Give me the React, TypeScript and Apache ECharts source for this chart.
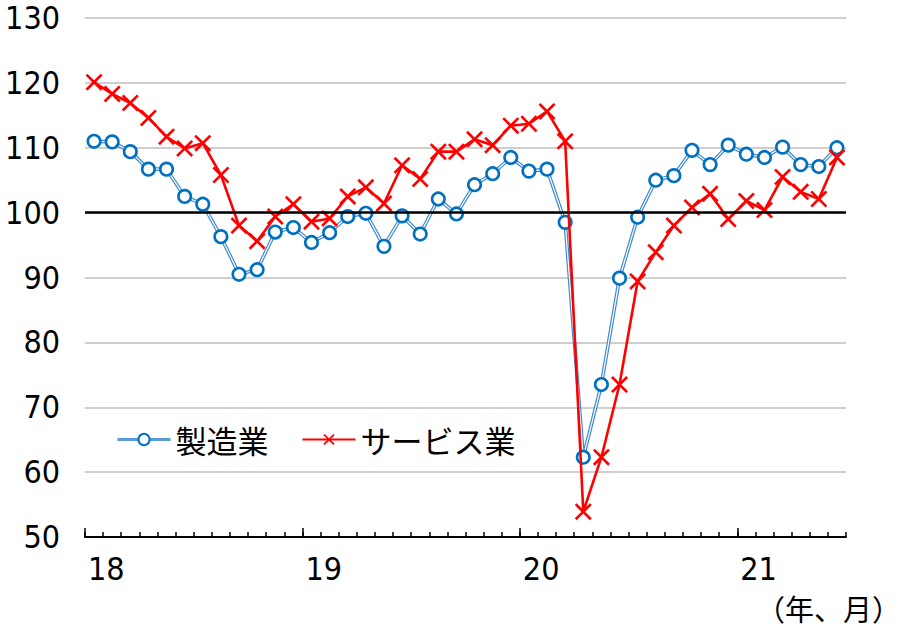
import React, { useEffect, useRef } from "react";
import * as echarts from "echarts";

const yearLabels = ["18", "19", "20", "21"];
const monthsPerYear = 12;
const months: string[] = [];
for (let y = 0; y < yearLabels.length; y++) {
  for (let m = 1; m <= monthsPerYear; m++) {
    if (y === 3 && m > 6) break;
    months.push(`${yearLabels[y]}/${m}`);
  }
}

const manufacturing = [
  111.0, 110.9, 109.4, 106.7, 106.7, 102.5, 101.3, 96.3, 90.5, 91.2, 97.0, 97.7,
  95.4, 96.9, 99.4, 99.9, 94.8, 99.5, 96.7, 102.1, 99.8, 104.3, 106.0, 108.5,
  106.4, 106.7, 98.5, 62.3, 73.5, 89.9, 99.3, 105.0, 105.7, 109.6, 107.4, 110.4,
  109.0, 108.5, 110.1, 107.4, 107.1, 110.0,
];
const services = [
  120.1, 118.3, 116.9, 114.6, 111.7, 109.9, 110.7, 105.8, 98.0, 95.6, 99.4, 101.3,
  98.6, 99.1, 102.5, 103.9, 101.4, 107.3, 105.2, 109.4, 109.4, 111.3, 110.4, 113.4,
  113.7, 115.6, 111.0, 53.9, 62.3, 73.5, 89.4, 93.9, 98.0, 100.8, 102.9, 99.0,
  101.8, 100.4, 105.5, 103.2, 102.1, 108.5,
];

const boundaries: string[] = [];
for (let k = 0; k <= months.length; k++) {
  boundaries.push(k % monthsPerYear === 0 ? yearLabels[k / monthsPerYear] ?? "" : "");
}

const CROSS = "path://M1.1,0 L5,3.9 L8.9,0 L10,1.1 L6.1,5 L10,8.9 L8.9,10 L5,6.1 L1.1,10 L0,8.9 L3.9,5 L0,1.1 Z";
const NUM_FONT = "'DejaVu Sans Condensed', 'Liberation Sans Narrow', 'Noto Sans CJK JP', sans-serif";
const JP_FONT = "'Noto Sans CJK JP', sans-serif";

export default function App() {
  const ref = useRef<HTMLDivElement>(null);
  useEffect(() => {
    if (!ref.current) return;
    const chart = echarts.init(ref.current, undefined, { renderer: "svg" });
    chart.setOption({
      animation: false,
      backgroundColor: "#ffffff",
      grid: { left: 85, right: 55, top: 18, bottom: 90, containLabel: false },
      legend: {
        left: 111,
        top: 419,
        itemWidth: 53,
        itemHeight: 14,
        itemGap: 33,
        textStyle: { fontSize: 31, color: "#000", fontFamily: JP_FONT },
        data: [
          { name: "製造業", lineStyle: { color: "#5B9BD5", width: 3 } },
          { name: "サービス業" },
        ],
      },
      xAxis: [
        {
          type: "category",
          data: months,
          boundaryGap: true,
          axisLine: { show: true, lineStyle: { color: "#000", width: 2 } },
          axisTick: { show: true, interval: 0, inside: true, length: 5, lineStyle: { color: "#000", width: 1.5 } },
          axisLabel: { show: false },
          splitLine: { show: false },
        },
        {
          type: "category",
          data: boundaries,
          boundaryGap: false,
          position: "bottom",
          axisLine: { show: false },
          axisTick: {
            show: true,
            inside: true,
            length: 9,
            interval: (i: number) => i % monthsPerYear === 0 && i < months.length,
            lineStyle: { color: "#000", width: 1.5 },
          },
          axisLabel: {
            interval: 0,
            align: "left",
            padding: [0, 0, 0, 3],
            margin: 16,
            fontSize: 32,
            color: "#000",
            fontFamily: NUM_FONT,
          },
          splitLine: { show: false },
        },
      ],
      yAxis: {
        type: "value",
        min: 50,
        max: 130,
        interval: 10,
        axisLine: { show: false },
        axisTick: { show: false },
        axisLabel: { fontSize: 32, color: "#000", fontFamily: NUM_FONT, margin: 25 },
        splitLine: { show: true, lineStyle: { color: "#BFBFBF", width: 1.5 } },
      },
      series: [
        {
          name: "製造業_line",
          type: "line",
          data: manufacturing,
          xAxisIndex: 0,
          symbol: "none",
          z: 2,
          silent: true,
          lineStyle: { color: "#3F8BD0", width: 3.6 },
          markLine: {
            silent: true,
            symbol: ["none", "none"],
            label: { show: false },
            lineStyle: { color: "#000", width: 2.5, type: "solid" },
            data: [{ yAxis: 100 }],
          },
        },
        {
          name: "製造業_inner",
          type: "line",
          data: manufacturing,
          xAxisIndex: 0,
          symbol: "none",
          z: 2,
          silent: true,
          lineStyle: { color: "#ffffff", width: 1.2 },
        },
        {
          name: "製造業",
          type: "line",
          data: manufacturing,
          xAxisIndex: 0,
          symbol: "circle",
          symbolSize: 12.5,
          showAllSymbol: true,
          showSymbol: true,
          z: 3,
          lineStyle: { width: 0, color: "#5B9BD5" },
          itemStyle: { color: "#ffffff", borderColor: "#0070C0", borderWidth: 2.6 },
        },
        {
          name: "サービス業",
          type: "line",
          data: services,
          xAxisIndex: 0,
          symbol: CROSS,
          symbolSize: 17,
          showAllSymbol: true,
          showSymbol: true,
          z: 4,
          lineStyle: { color: "#FF0000", width: 2.6 },
          itemStyle: { color: "#FF0000", borderWidth: 0 },
        },
      ],
      graphic: [
        {
          type: "text",
          right: 0,
          top: 593,
          style: { text: "（年、月）", fontSize: 29, fill: "#000", fontFamily: JP_FONT },
        },
      ],
    });
    return () => chart.dispose();
  }, []);
  return <div ref={ref} style={{ position: "fixed", left: 0, top: 0, width: 901, height: 627 }} />;
}
